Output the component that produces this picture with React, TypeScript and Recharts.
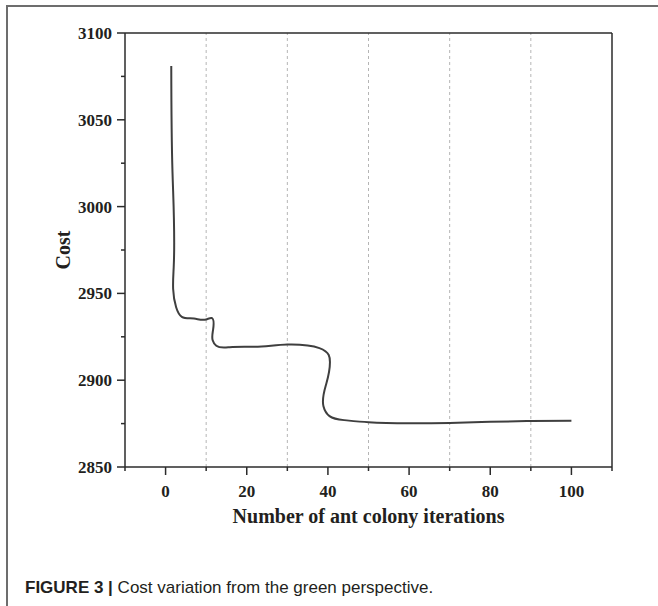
import { LineChart, Line, XAxis, YAxis, ReferenceLine, Label } from 'recharts';

// points (iteration, cost)
const iterations = [1.4, 1.7, 2.0, 2.6, 4, 7, 10, 11.3, 11.7, 11.6, 12.5, 15.8, 22, 30, 35, 37.9, 40.2, 40.5, 39.6, 38.9, 40.4, 44, 50, 60, 70, 80, 90, 100];
const costs = [3081, 3020, 2965, 2942, 2936.5, 2935.5, 2935, 2935.8, 2929, 2923, 2919.8, 2919, 2919.3, 2920.5, 2920, 2918.5, 2914.5, 2910.5, 2898, 2885, 2879.3, 2877, 2875.8, 2875.2, 2875.4, 2876, 2876.5, 2876.6];

const xTicks = [-10, 0, 10, 20, 30, 40, 50, 60, 70, 80, 90, 100, 110];
const yTicks = [2850, 2875, 2900, 2925, 2950, 2975, 3000, 3025, 3050, 3075, 3100];
const gridX = [10, 30, 50, 70, 90];

const data = iterations.map((iter, i) => ({ iter, cost: costs[i] }));

const axisColor = '#2b2b2b';
const serif = '"Liberation Serif", "Times New Roman", serif';

// natural cubic spline, parametrised by chord length (like Origin's spline connect)
function secondDerivs(p: number[], h: number[]) {
  const n = p.length;
  const m = new Array(n).fill(0);
  if (n < 3) return m;
  const a: number[] = [], b: number[] = [], c: number[] = [], r: number[] = [];
  for (let i = 1; i < n - 1; i++) {
    a.push(h[i - 1]);
    b.push(2 * (h[i - 1] + h[i]));
    c.push(h[i]);
    r.push(6 * ((p[i + 1] - p[i]) / h[i] - (p[i] - p[i - 1]) / h[i - 1]));
  }
  const k = b.length;
  for (let i = 1; i < k; i++) {
    const w = a[i] / b[i - 1];
    b[i] -= w * c[i - 1];
    r[i] -= w * r[i - 1];
  }
  const s = new Array(k);
  s[k - 1] = r[k - 1] / b[k - 1];
  for (let i = k - 2; i >= 0; i--) s[i] = (r[i] - c[i] * s[i + 1]) / b[i];
  for (let i = 0; i < k; i++) m[i + 1] = s[i];
  return m;
}

function chordSpline(context: any) {
  let xs: number[] = [];
  let ys: number[] = [];
  return {
    areaStart() {},
    areaEnd() {},
    lineStart() {
      xs = [];
      ys = [];
    },
    point(x: number, y: number) {
      xs.push(+x);
      ys.push(+y);
    },
    lineEnd() {
      const n = xs.length;
      if (!n) return;
      context.moveTo(xs[0], ys[0]);
      if (n < 3) {
        if (n === 2) context.lineTo(xs[1], ys[1]);
        return;
      }
      const h: number[] = [];
      for (let i = 0; i < n - 1; i++) {
        h.push(Math.max(Math.hypot(xs[i + 1] - xs[i], ys[i + 1] - ys[i]), 1e-6));
      }
      const mx = secondDerivs(xs, h);
      const my = secondDerivs(ys, h);
      for (let i = 0; i < n - 1; i++) {
        const hi = h[i];
        const dx0 = (xs[i + 1] - xs[i]) / hi - (hi * (2 * mx[i] + mx[i + 1])) / 6;
        const dx1 = (xs[i + 1] - xs[i]) / hi + (hi * (mx[i] + 2 * mx[i + 1])) / 6;
        const dy0 = (ys[i + 1] - ys[i]) / hi - (hi * (2 * my[i] + my[i + 1])) / 6;
        const dy1 = (ys[i + 1] - ys[i]) / hi + (hi * (my[i] + 2 * my[i + 1])) / 6;
        context.bezierCurveTo(
          xs[i] + (dx0 * hi) / 3,
          ys[i] + (dy0 * hi) / 3,
          xs[i + 1] - (dx1 * hi) / 3,
          ys[i + 1] - (dy1 * hi) / 3,
          xs[i + 1],
          ys[i + 1]
        );
      }
    },
  };
}

const XTick = (props: any) => {
  const { x, y, payload } = props;
  const major = payload.value % 20 === 0;
  return (
    <g>
      <line x1={x} y1={y} x2={x} y2={y + (major ? 8 : 4)} stroke={axisColor} strokeWidth={1.5} />
      {major && (
        <text x={x} y={y + 30} textAnchor="middle" fontFamily={serif} fontWeight="bold" fontSize={17} fill="#231f20">
          {payload.value}
        </text>
      )}
    </g>
  );
};

const YTick = (props: any) => {
  const { x, y, payload } = props;
  const major = payload.value % 50 === 0;
  return (
    <g>
      <line x1={x - (major ? 8 : 4)} y1={y} x2={x} y2={y} stroke={axisColor} strokeWidth={1.5} />
      {major && (
        <text x={x - 13} y={y + 6} textAnchor="end" fontFamily={serif} fontWeight="bold" fontSize={17} fill="#231f20">
          {payload.value}
        </text>
      )}
    </g>
  );
};

export default function App() {
  return (
    <div style={{ position: 'absolute', left: 0, top: 0, width: 658, height: 606, background: '#fff', overflow: 'hidden' }}>
      <div
        style={{
          position: 'absolute',
          left: 6,
          top: 5,
          width: 700,
          height: 700,
          borderTop: '2px solid #6d6d6d',
          borderLeft: '2px solid #6d6d6d',
        }}
      />
      <div style={{ position: 'absolute', left: 0, top: 0 }}>
        <LineChart width={658} height={560} data={data} margin={{ top: 33, right: 46, left: 45, bottom: 33 }}>
          {gridX.map((g) => (
            <ReferenceLine key={g} x={g} stroke="#b5b5b5" strokeDasharray="3 3" strokeWidth={1} />
          ))}
          <ReferenceLine y={3100} stroke={axisColor} strokeWidth={1.5} />
          <ReferenceLine x={110} stroke={axisColor} strokeWidth={1.5} />
          <XAxis
            dataKey="iter"
            type="number"
            domain={[-10, 110]}
            ticks={xTicks}
            interval={0}
            tickSize={0}
            tickMargin={0}
            tickLine={false}
            tick={<XTick />}
            height={60}
            stroke={axisColor}
            strokeWidth={1.5}
            allowDataOverflow
          >
            <Label
              value="Number of ant colony iterations"
              position="insideBottom"
              offset={4}
              fontFamily={serif}
              fontWeight="bold"
              fontSize={20}
              fill="#231f20"
            />
          </XAxis>
          <YAxis
            type="number"
            domain={[2850, 3100]}
            ticks={yTicks}
            interval={0}
            tickSize={0}
            tickMargin={0}
            tickLine={false}
            tick={<YTick />}
            width={80}
            stroke={axisColor}
            strokeWidth={1.5}
            allowDataOverflow
          >
            <Label
              value="Cost"
              position="insideLeft"
              angle={-90}
              offset={18}
              textAnchor="middle"
              fontFamily={serif}
              fontWeight="bold"
              fontSize={20}
              fill="#231f20"
            />
          </YAxis>
          <Line
            dataKey="cost"
            type={chordSpline as any}
            stroke="#3f3f3f"
            strokeWidth={2}
            dot={false}
            activeDot={false}
            isAnimationActive={false}
          />
        </LineChart>
      </div>
      <div
        style={{
          position: 'absolute',
          left: 25,
          top: 579,
          fontFamily: '"Liberation Sans", Arial, sans-serif',
          fontSize: 17,
          lineHeight: '18px',
          color: '#231f20',
          whiteSpace: 'nowrap',
        }}
      >
        <b>FIGURE 3 |</b> Cost variation from the green perspective.
      </div>
    </div>
  );
}
